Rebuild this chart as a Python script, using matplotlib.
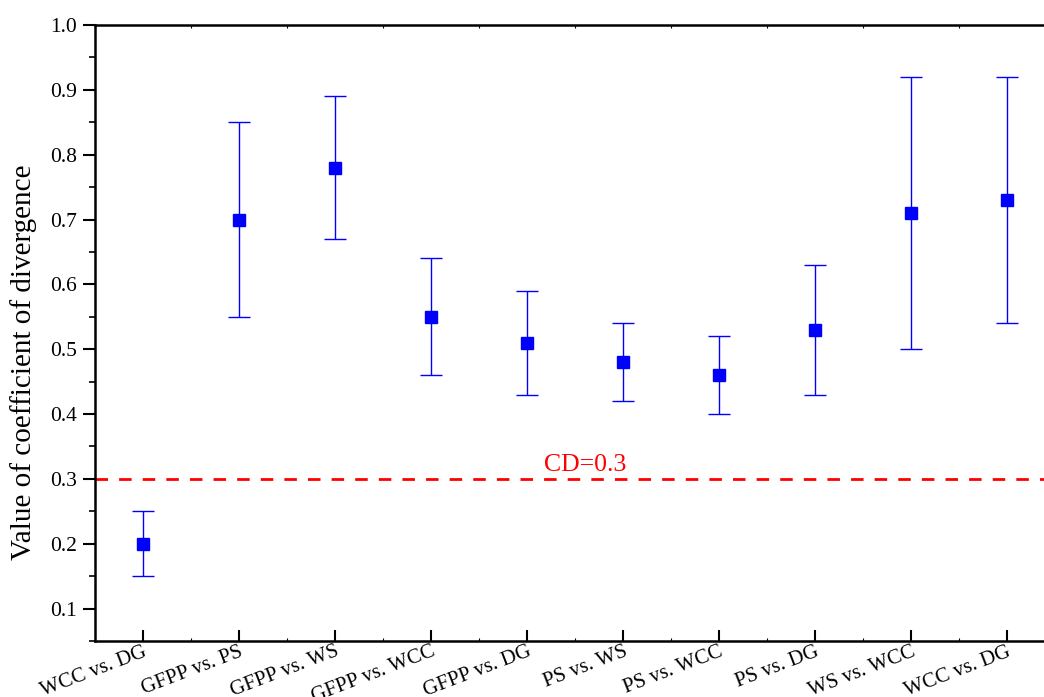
import numpy as np
import matplotlib.pyplot as plt
from matplotlib.ticker import MultipleLocator

plt.rcParams['font.family'] = ['Liberation Serif', 'DejaVu Serif']

pairs = ['WCC vs. DG', 'GFPP vs. PS', 'GFPP vs. WS', 'GFPP vs. WCC', 'GFPP vs. DG',
         'PS vs. WS', 'PS vs. WCC', 'PS vs. DG', 'WS vs. WCC', 'WCC vs. DG']
cd_mean = [0.20, 0.70, 0.78, 0.55, 0.51, 0.48, 0.46, 0.53, 0.71, 0.73]
cd_low = [0.15, 0.55, 0.67, 0.46, 0.43, 0.42, 0.40, 0.43, 0.50, 0.54]
cd_high = [0.25, 0.85, 0.89, 0.64, 0.59, 0.54, 0.52, 0.63, 0.92, 0.92]
threshold = 0.3

x = np.arange(1, len(pairs) + 1)
mean = np.array(cd_mean)
yerr = [mean - np.array(cd_low), np.array(cd_high) - mean]

fig = plt.figure(figsize=(10.44, 6.97), dpi=100)
# right edge of the frame runs past the figure, as in the original
ax = fig.add_axes([95 / 1044, 1 - 641 / 697, 960 / 1044, 616 / 697])

ax.errorbar(x, mean, yerr=yerr, fmt='s', color='#0000ff', ecolor='#0000ff',
            markersize=9, elinewidth=1, capsize=8, capthick=1)
ax.axhline(threshold, color='#ff0000', ls=(0, (4.5, 4)), lw=2)
ax.text(5.61, threshold + 0.012, 'CD=0.3', color='#ff0000', fontsize=18.5,
        ha='center', va='baseline')

ax.set_xlim(0.5, 10.5)
ax.set_ylim(0.05, 1.0)
ax.set_xticks(x)
ax.set_xticklabels(pairs, rotation=21, ha='right', rotation_mode='anchor', fontsize=15)
ax.xaxis.set_minor_locator(MultipleLocator(0.5))
ax.yaxis.set_major_locator(MultipleLocator(0.1))
ax.yaxis.set_minor_locator(MultipleLocator(0.05))
ax.tick_params(axis='y', which='both', direction='out', labelsize=15.5, pad=4)
ax.tick_params(axis='y', which='major', length=9, width=1.5)
ax.tick_params(axis='y', which='minor', length=4.5, width=1.2)
ax.tick_params(axis='x', which='major', direction='in', length=8, width=1.5, top=False, pad=1)
ax.tick_params(axis='x', which='minor', direction='in', length=2.5, width=0.8, top=True)
ax.set_ylabel('Value of coefficient of divergence', fontsize=21, labelpad=8)
ax.yaxis.set_label_coords(-0.06, 0.453)
for s in ax.spines.values():
    s.set_linewidth(1.8)

fig.savefig('out.png', dpi=100)
